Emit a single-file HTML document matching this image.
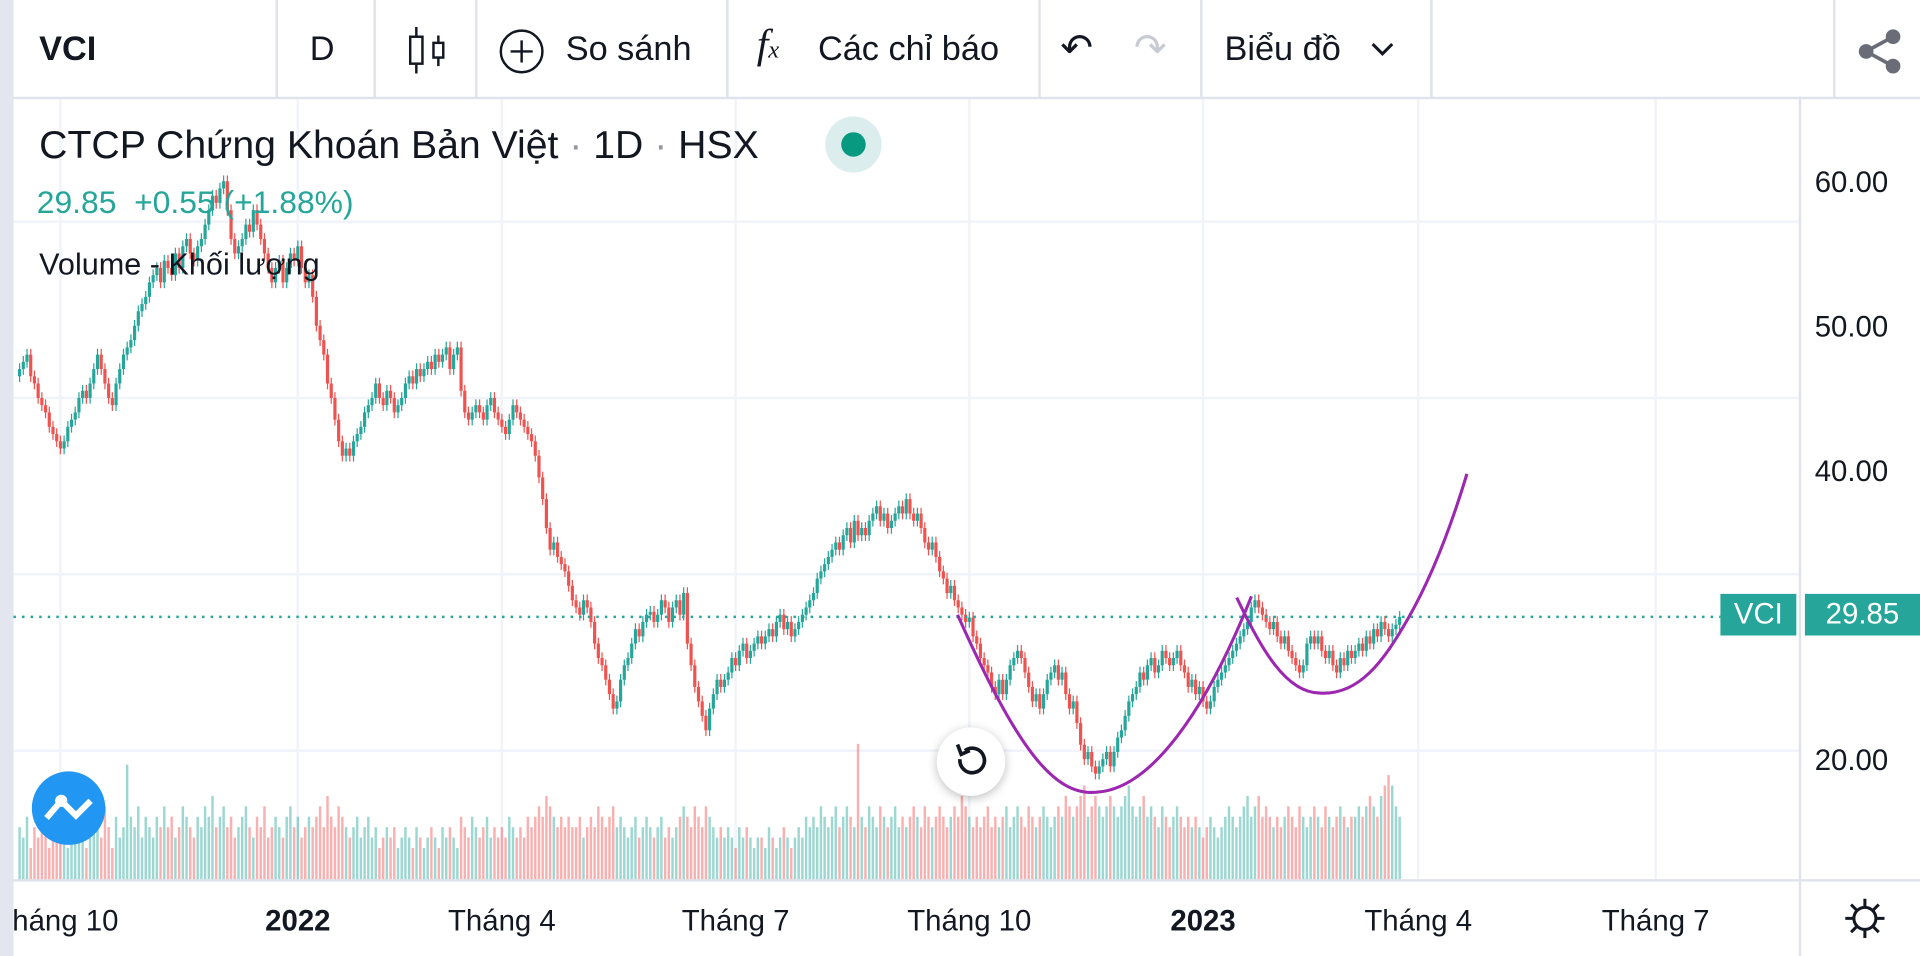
<!DOCTYPE html>
<html><head><meta charset="utf-8">
<style>
html,body{margin:0;padding:0;background:#fff;width:1920px;height:956px;overflow:hidden;font-family:"Liberation Sans",sans-serif;color:#131722}
#root{position:relative;width:1568px;height:781px;transform:scale(1.22449);transform-origin:0 0}
.sep{position:absolute;top:0;height:80px;width:2px;background:#e0e3eb}
.t{position:absolute;white-space:nowrap}
</style></head>
<body><div id="root">
<div style="position:absolute;left:0;top:0;width:11px;height:781px;background:#e3e6ee"></div>
<div style="position:absolute;left:11px;top:79px;width:1557px;height:2px;background:#e0e3eb"></div>
<div class="sep" style="left:225px"></div><div class="sep" style="left:305px"></div><div class="sep" style="left:388px"></div><div class="sep" style="left:593px"></div><div class="sep" style="left:848px"></div><div class="sep" style="left:980px"></div><div class="sep" style="left:1168px"></div><div class="sep" style="left:1497px"></div>
<div class="t" style="left:32px;top:24px;font-size:28px;font-weight:bold">VCI</div>
<div class="t" style="left:253px;top:24px;font-size:28px">D</div>
<svg class="t" style="left:330px;top:20px" width="36" height="42"><line x1="10" y1="2" x2="10" y2="40" stroke="#131722" stroke-width="2"/><rect x="5" y="10" width="10" height="22" fill="#fff" stroke="#131722" stroke-width="2"/><line x1="28" y1="9" x2="28" y2="34" stroke="#131722" stroke-width="2"/><rect x="24" y="15" width="8" height="12" fill="#fff" stroke="#131722" stroke-width="2"/></svg>
<svg class="t" style="left:406px;top:22px" width="40" height="40"><circle cx="20" cy="20" r="17" fill="none" stroke="#131722" stroke-width="2"/><path d="M20 11v18M11 20h18" stroke="#131722" stroke-width="2"/></svg>
<div class="t" style="left:462px;top:24px;font-size:28px">So sánh</div>
<div class="t" style="left:618px;top:18px;font-size:34px;font-style:italic;font-family:'Liberation Serif',serif">f<span style="font-size:20px">x</span></div>
<div class="t" style="left:668px;top:24px;font-size:28px">Các chỉ báo</div>
<div class="t" style="left:866px;top:20px;font-size:32px">↶</div>
<div class="t" style="left:926px;top:20px;font-size:32px;color:#c8cbd3">↷</div>
<div class="t" style="left:1000px;top:24px;font-size:28px">Biểu đồ</div>
<svg class="t" style="left:1118px;top:32px" width="22" height="16"><path d="M3 4l8 8 8-8" fill="none" stroke="#131722" stroke-width="2.5"/></svg>
<svg class="t" style="left:1516px;top:22px" width="40" height="40"><circle cx="30" cy="8" r="6" fill="#6a6d78"/><circle cx="8" cy="20" r="6" fill="#6a6d78"/><circle cx="30" cy="32" r="6" fill="#6a6d78"/><path d="M30 8L8 20L30 32" stroke="#6a6d78" stroke-width="3" fill="none"/></svg>

<svg id="chart" style="position:absolute;left:0;top:0" width="1568" height="781"></svg>

<div class="t" style="left:32px;top:100px;font-size:32px">CTCP Chứng Khoán Bản Việt <span style="color:#9598a1">·</span> 1D <span style="color:#9598a1">·</span> HSX</div>
<div style="position:absolute;left:674px;top:95px;width:46px;height:46px;border-radius:50%;background:#dbeeed"><div style="position:absolute;left:13px;top:13px;width:20px;height:20px;border-radius:50%;background:#089981"></div></div>
<div class="t" style="left:30px;top:150px;font-size:26px;color:#26a69a">29.85&nbsp; +0.55 (+1.88%)</div>
<div class="t" style="left:32px;top:202px;font-size:25px">Volume - Khối lượng</div>
<div style="position:absolute;left:765px;top:594px;width:56px;height:56px;border-radius:50%;background:#fff;box-shadow:0 2px 8px rgba(0,0,0,.25)"><svg width="56" height="56"><path d="M19 26a10 10 0 1 0 4-7" fill="none" stroke="#131722" stroke-width="3"/><path d="M17 14l3 8 7-3" fill="none" stroke="#131722" stroke-width="3"/></svg></div>
<div style="position:absolute;left:26px;top:630px;width:60px;height:60px;border-radius:50%;background:#2196f3"><svg width="60" height="60"><path d="M12 38l12-14 12 12 12-12" fill="none" stroke="#fff" stroke-width="5"/><circle cx="24" cy="24" r="5" fill="#fff"/></svg></div>
<div style="position:absolute;left:1405px;top:485px;width:62px;height:34px;background:#26a69a;color:#fff;font-size:24px;line-height:34px;text-align:center">VCI</div>
<div style="position:absolute;left:1472px;top:485px;width:94px;height:34px;background:#26a69a;color:#fff;font-size:24px;line-height:34px;text-align:center;border-left:2px solid #fff">29.85</div>
<svg class="t" style="left:1505px;top:732px" width="36" height="36"><circle cx="18" cy="18" r="9" fill="none" stroke="#131722" stroke-width="2.5"/><g stroke="#131722" stroke-width="2.5"><path d="M18 2v6M18 28v6M2 18h6M28 18h6M6.7 6.7l4.2 4.2M25.1 25.1l4.2 4.2M6.7 29.3l4.2-4.2M25.1 10.9l4.2-4.2"/></g></svg>
</div>
<script>
const closes=[47,47.5,48,46.5,46,45,44.5,44,43,42.5,
42,41.5,42,43,43.5,44,45,45.5,45,46,
47,48,47,46,45,44.5,46,47,48,48.5,
49,50,51,51.5,52,53,53.5,54,53,54.5,
54,53.5,55,54,55.5,56,55,54.5,55.5,56,
57,58,59,58.5,59.5,60,58,56,55,55.5,
56,57,56.5,58,57,56,55,54,53,54,
54.5,53,54,55,54.5,55.5,54,53,53.5,52,
50,49,48,46,45,43.5,42,41,41.5,41,
42,42.5,43,44,44.5,45,46,45,44.5,45.5,
45,44,44.5,45,46,46.5,46,47,46.5,47,
47.5,47,48,47.5,48,48.5,47,48,48.5,45.5,
44,43.5,44,44.5,44,43.5,44.5,45,44,43.5,
43,42.5,43.5,44.5,44,43.5,43,42.5,42,41,
39.5,38,36,34.5,35,34,33.5,33,32,31,
30.5,30,31,30.5,29.5,28,27,26.5,25.5,24.5,
23.5,24,25.5,26.5,27,28,29,28.5,29.5,30,
30.2,29.5,30,31,30.5,29.5,30.5,31,30,31.5,
28,26.5,25,24,23,22,23.5,24.5,25.5,25,
25.5,26,27,26.5,27.5,28,27,27.5,28,28.5,
28,28.5,29,28.5,29.5,30,29,29.5,28.5,29,
29.5,30,30.5,31,31.5,32.5,33,33.5,34,34.5,
35,34.5,35.5,36,35,36.5,35.5,36,35.5,36.5,
37,37.5,36.5,37,36,36.5,37,37.5,37,38,
37,36.5,37,36,35,34.5,35,34,33,32.5,
31.5,32,31,30.5,30,29.5,29.8,28.5,28,27,
26.5,26,25,24.5,25.5,24.5,25.5,26.5,27,27.5,
27,26,25,24,24.5,23.5,24.5,25.5,26,26.5,
25.5,26,24.5,23.5,24,22.5,21,20,20.5,19.5,
19,19.5,20,20.5,19.5,20.5,21.5,22,23,24,
24.5,25,26,25.5,26.5,27,26,26.5,27.5,27,
26.5,27,27.5,26.5,26,25,25.5,24.5,25,24,
23.5,24,25,25.5,26,26.5,27,27.5,28,28.5,
29,29.5,30.5,31,30.5,30,29.5,29,29.5,28.5,
28,28.5,27.5,27,26.5,26,26.5,28,28.5,28,
28.5,27.5,27,27.5,26.5,26,27,26.5,27.5,27,
27.5,28,27.5,28.5,28,29,28.5,29.5,29,28.5,
29,29.3,29.85];
const volumes=[5,4,6,3,5,4,7,5,3,4,
5,6,4,3,5,6,4,5,3,4,
6,5,4,7,5,3,6,4,5,11,
6,5,7,4,6,5,4,6,5,7,
5,6,4,5,7,6,5,4,6,5,
7,6,8,5,6,7,5,6,4,5,
6,7,5,4,6,5,7,4,5,6,
5,4,6,7,5,6,4,5,6,5,
6,7,5,8,6,5,7,6,5,4,
5,6,4,5,6,4,5,3,4,5,
4,5,3,4,5,4,3,5,4,3,
4,5,4,3,5,4,5,4,3,6,
5,4,6,5,4,5,6,4,5,4,
5,4,6,5,4,5,4,6,5,6,
7,6,8,7,6,5,6,5,6,5,
5,6,4,5,6,5,7,6,5,6,
7,5,6,5,4,5,6,4,5,6,
5,4,5,6,4,5,4,5,6,7,
6,5,7,6,5,7,6,5,4,5,
4,5,4,3,5,4,5,4,3,4,
4,3,5,4,3,4,5,4,3,4,
5,4,6,5,6,5,7,6,5,6,
7,5,6,7,6,5,13,6,5,7,
6,5,7,6,5,6,7,5,6,5,
6,7,6,5,7,6,5,6,7,6,
5,6,7,6,8,7,6,5,6,5,
6,7,5,6,5,6,7,5,6,7,
6,5,7,6,5,6,7,6,5,6,
7,6,8,7,6,7,8,9,6,7,
8,7,6,7,8,7,6,7,8,9,
7,6,7,8,6,7,6,5,7,6,
5,6,7,6,5,6,5,6,5,4,
5,6,5,4,5,6,7,6,5,6,
7,8,6,7,8,6,7,6,5,6,
5,6,7,6,5,7,6,5,6,7,
6,5,7,6,5,6,7,6,5,6,
6,7,6,7,8,7,6,8,9,10,
9,7,6];
const priceTicks=[60,50,40,20];
const timeLabels=["háng 10","2022","Tháng 4","Tháng 7","Tháng 10","2023","Tháng 4","Tháng 7"];
const timeLabelIdx=[11,75,130,193,256,319,377,441];
const lastPrice=29.85;

const svg=document.getElementById('chart');
const NS='http://www.w3.org/2000/svg';
const step=1121/370;
const xAt=i=>16+i*step;
const yAt=p=>148+(60-p)*11.8;
const vH=v=>v*8.5;
function mk(tag,attrs,parent){const e=document.createElementNS(NS,tag);for(const k in attrs)e.setAttribute(k,attrs[k]);(parent||svg).appendChild(e);return e;}

[181,325,469,613].forEach(y=>{const g=mk('line',{x1:11,x2:1470,y1:y,y2:y,stroke:'#f0f3fa','stroke-width':2});

});
timeLabelIdx.forEach(i=>{const g=mk('line',{x1:xAt(i),x2:xAt(i),y1:81,y2:718,stroke:'#f0f3fa','stroke-width':2});

});
const ab=mk('line',{x1:1470,x2:1470,y1:81,y2:781,stroke:'#e0e3eb','stroke-width':2});


const tb=mk('line',{x1:11,x2:1568,y1:719,y2:719,stroke:'#e0e3eb','stroke-width':2});



volumes.forEach((v,i)=>{const up=i===0||closes[i]>=closes[i-1];
const r=mk('rect',{x:xAt(i)-1,y:718-vH(v),width:2,height:vH(v),fill:up?'rgba(38,166,154,0.45)':'rgba(239,83,80,0.45)'});

});

closes.forEach((c,i)=>{const o=i===0?c-0.5:closes[i-1];const up=c>=o;const col=up?'#26a69a':'#ef5350';
const hi=Math.max(o,c)+0.4,lo=Math.min(o,c)-0.4;const x=xAt(i);
const w=mk('line',{x1:x,x2:x,y1:yAt(hi),y2:yAt(lo),stroke:col,'stroke-width':1});


const b=mk('rect',{x:x-1.3,y:yAt(Math.max(o,c)),width:2.6,height:Math.max(1,Math.abs(o-c)*11.8),fill:col});

});

const lp=mk('line',{x1:11,x2:1405,y1:yAt(lastPrice),y2:yAt(lastPrice),stroke:'#26a69a','stroke-width':2,'stroke-dasharray':'2 5'});



const c1=mk('path',{d:'M782 502 C830 610 860 650 895 647 C940 645 985 580 1022 487',fill:'none',stroke:'#9c27b0','stroke-width':2.5});


const c2=mk('path',{d:'M1010 488 C1030 530 1050 566 1078 566 C1110 568 1130 540 1150 505 C1170 470 1185 430 1198 387',fill:'none',stroke:'#9c27b0','stroke-width':2.5});



priceTicks.forEach(p=>{const t=mk('text',{x:1482,y:yAt(p)+9,'font-size':24,fill:'#131722','font-family':'Liberation Sans'});t.textContent=p.toFixed(2);

});
timeLabels.forEach((l,k)=>{const bold=/^\d{4}$/.test(l);const t=mk('text',{x:k===0?10:xAt(timeLabelIdx[k]),y:760,'font-size':24,'text-anchor':k===0?'start':'middle',fill:'#131722','font-weight':bold?'bold':'normal','font-family':'Liberation Sans'});t.textContent=l;

});
</script>
</body></html>
